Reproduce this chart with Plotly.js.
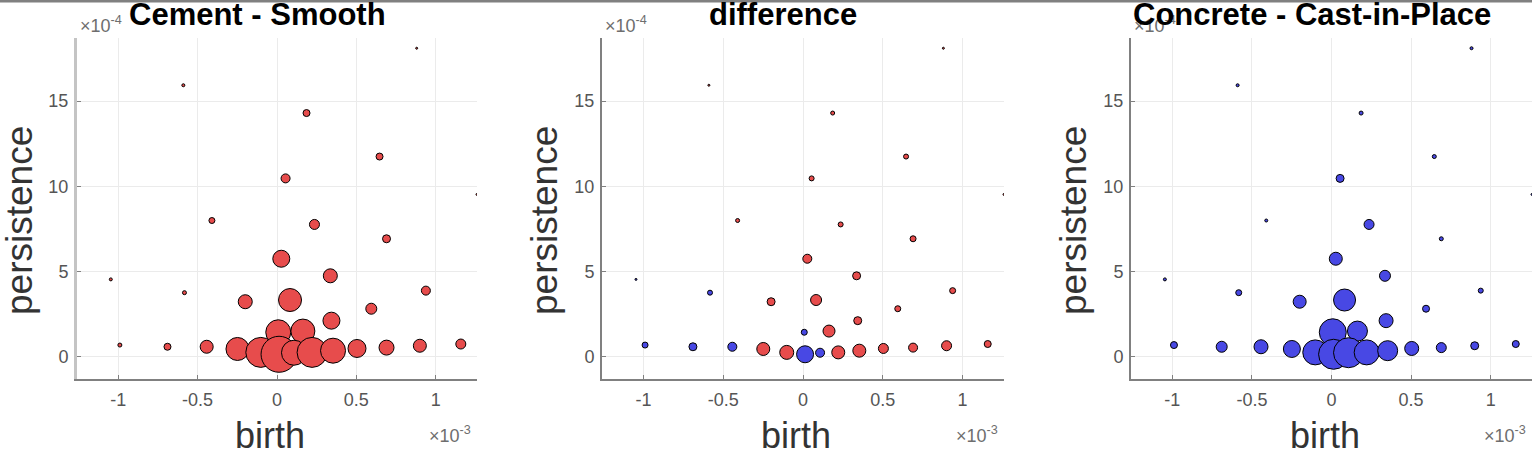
<!DOCTYPE html>
<html>
<head>
<meta charset="utf-8">
<script src="https://cdn.plot.ly/plotly-3.0.1.min.js"></script>
<style>
html, body { margin: 0; padding: 0; background: #fff; }
#chart { width: 1532px; height: 455px; }
</style>
</head>
<body>
<div id="chart"></div>
<script>
// birth in units of 1e-3, persistence in units of 1e-4 (as shown by the axis multipliers)
const birth = [-0.59, 0.88, 0.186, 0.646, 0.054, 1.26, -0.41, 0.236, 0.69, 0.027, 0.336, -1.047, -0.583, 0.938, -0.2, 0.082, 0.594, 0.343, 0.008, 0.163, -0.99, -0.69, -0.443, -0.249, -0.102, 0.013, 0.107, 0.221, 0.353, 0.504, 0.69, 0.9, 1.158];
const persistence = [15.93, 18.1, 14.3, 11.75, 10.47, 9.53, 8.0, 7.77, 6.93, 5.76, 4.76, 4.55, 3.77, 3.89, 3.24, 3.34, 2.83, 2.13, 1.45, 1.52, 0.70, 0.60, 0.60, 0.47, 0.27, 0.16, 0.25, 0.27, 0.37, 0.50, 0.55, 0.66, 0.76];
// bubble weights
const cementWeight = [3, 2, 7, 7, 9, 2, 6, 10, 8, 17, 14, 3, 4, 9, 14, 23, 11, 17, 25, 24, 4, 7, 13, 23, 30, 36, 25, 30, 25, 18, 15, 13, 10];
const concreteWeight = [3, 3, 4, 4, 8, 2, 3, 10, 4, 13, 11, 3, 6, 5, 13, 22, 7, 14, 27, 20, 7, 11, 14, 17, 25, 30, 30, 25, 20, 14, 10, 8, 7];
// signed difference: positive = Cement larger (red), negative = Concrete larger (blue)
const differenceWeight = [2, 2, 4, 5, 5, 2, 4, 5, 6, 9, 8, -2, -5, 6, 8, 11, 6, 8, -6, 12, -6, -8, -9, 13, 14, -17, -9, 13, 13, 10, 9, 10, 7];

const panelTitles = ["Cement - Smooth", "difference", "Concrete - Cast-in-Place"];
const xTickVals = [-1, -0.5, 0, 0.5, 1];
const xTickText = ["-1", "-0.5", "0", "0.5", "1"];
const yTickVals = [0, 5, 10, 15];
const yTickText = ["0", "5", "10", "15"];

const RED = "rgb(231,76,76)";
const BLUE = "rgb(72,72,228)";
const W = 1532, H = 455;
const px = v => v / W;
const py = v => 1 - v / H;

const panels = [
  {left: 77, right: 477},
  {left: 602, right: 1004},
  {left: 1131, right: 1532}
];
const plotTop = 38, plotBottom = 379;

function makeTrace(i, sizes, colors) {
  return {
    type: "scatter", mode: "markers",
    x: birth, y: persistence,
    xaxis: i === 0 ? "x" : "x" + (i + 1),
    yaxis: i === 0 ? "y" : "y" + (i + 1),
    marker: {size: sizes, color: colors, opacity: 1, line: {color: "#000", width: 1}},
    hoverinfo: "x+y", showlegend: false
  };
}

const data = [
  makeTrace(0, cementWeight, RED),
  makeTrace(1, differenceWeight.map(Math.abs), differenceWeight.map(v => v >= 0 ? RED : BLUE)),
  makeTrace(2, concreteWeight, BLUE)
];

const layout = {
  width: W, height: H,
  margin: {l: 0, r: 0, t: 0, b: 0},
  paper_bgcolor: "#fff", plot_bgcolor: "#fff",
  font: {family: "Liberation Sans, Arial, sans-serif", color: "#4d4d4d"},
  showlegend: false,
  annotations: [],
  shapes: [{type: "line", xref: "paper", yref: "paper", x0: 0, x1: 1, y0: py(1), y1: py(1), line: {color: "#808080", width: 3}}]
};

panels.forEach((p, i) => {
  const sfx = i === 0 ? "" : String(i + 1);
  layout["xaxis" + sfx] = {
    domain: [px(p.left), px(p.right)],
    anchor: "y" + sfx,
    range: [-1.26, 1.26],
    tickvals: xTickVals, ticktext: xTickText,
    tickfont: {size: 18, color: "#555"},
    ticks: "inside", ticklen: 4, tickcolor: "#808080",
    ticklabelstandoff: 3,
    showgrid: true, gridcolor: "#ebebeb", gridwidth: 1,
    zeroline: false,
    showline: true, linecolor: "#808080", linewidth: 2,
    mirror: false, fixedrange: true
  };
  layout["yaxis" + sfx] = {
    domain: [py(plotBottom), py(plotTop)],
    anchor: "x" + sfx,
    range: [-1.29, 18.7],
    tickvals: yTickVals, ticktext: yTickText,
    tickfont: {size: 18, color: "#555"},
    ticks: "inside", ticklen: 4, tickcolor: "#808080",
    ticklabelstandoff: 2,
    showgrid: true, gridcolor: "#ebebeb", gridwidth: 1,
    zeroline: false,
    showline: true, linecolor: i === 0 ? "#c4c4c4" : "#808080", linewidth: i === 0 ? 3 : 2,
    mirror: false, fixedrange: true
  };
  const cx = (p.left + p.right) / 2;
  layout.annotations.push({
    xref: "paper", yref: "paper", x: px(p.left + 1), y: py(24), xanchor: "left", yanchor: "middle",
    text: "×10<sup>-4</sup>", showarrow: false, font: {size: 18, color: "#6e6e6e"}
  });
  layout.annotations.push({
    xref: "paper", yref: "paper", x: px(p.right - 4), y: py(434), xanchor: "right", yanchor: "middle",
    text: "×10<sup>-3</sup>", showarrow: false, font: {size: 18, color: "#6e6e6e"}
  });
  layout.annotations.push({
    xref: "paper", yref: "paper", x: px(cx - 20), y: py(15), xanchor: "center", yanchor: "middle",
    text: "<b>" + panelTitles[i] + "</b>", showarrow: false, font: {size: 31, color: "#000"}
  });
  layout.annotations.push({
    xref: "paper", yref: "paper", x: px(cx - 7), y: py(435), xanchor: "center", yanchor: "middle",
    text: "birth", showarrow: false, font: {size: 36, color: "#333"}
  });
  layout.annotations.push({
    xref: "paper", yref: "paper", x: px(p.left - 58), y: py(221), xanchor: "center", yanchor: "middle",
    text: "persistence", textangle: -90, showarrow: false, font: {size: 37, color: "#333"}
  });
});

Plotly.newPlot("chart", data, layout, {displayModeBar: false, staticPlot: true});
</script>
</body>
</html>
